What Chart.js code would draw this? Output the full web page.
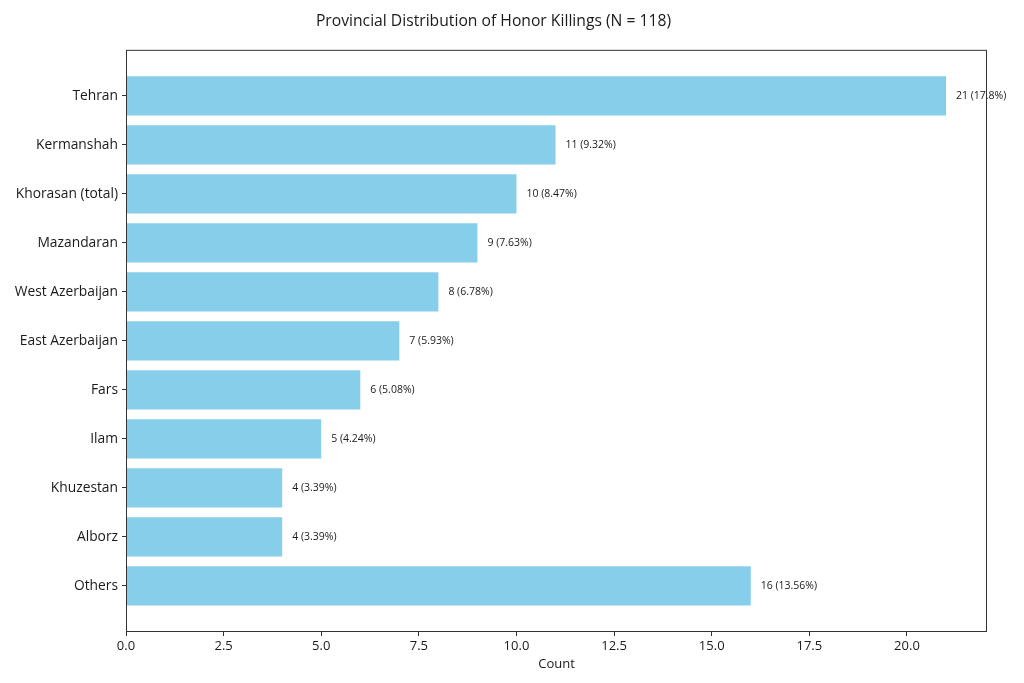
<!DOCTYPE html>
<html>
<head>
<meta charset="utf-8">
<script src="https://cdn.jsdelivr.net/npm/chart.js@4.4.1/dist/chart.umd.min.js"></script>
<style>
    body { margin: 0; background: #fff; }
    #wrap { width: 1024px; height: 683px; }
</style>
</head>
<body>
<div id="wrap"><canvas id="provinces-chart" width="1024" height="683"></canvas></div>
<script>
let provinces = ['Tehran', 'Kermanshah', 'Khorasan (total)', 'Mazandaran', 'West Azerbaijan',
    'East Azerbaijan', 'Fars', 'Ilam', 'Khuzestan', 'Alborz', 'Others'];
let counts = [21, 11, 10, 9, 8, 7, 6, 5, 4, 4, 16];
let barLabels = ['21 (17.8%)', '11 (9.32%)', '10 (8.47%)', '9 (7.63%)', '8 (6.78%)',
    '7 (5.93%)', '6 (5.08%)', '5 (4.24%)', '4 (3.39%)', '4 (3.39%)', '16 (13.56%)'];
let countTicks = [0, 2.5, 5, 7.5, 10, 12.5, 15, 17.5, 20];

const fontFamily = '"Open Sans", "DejaVu Sans", sans-serif';
const textColor = '#1a1a1a';

// frame round the plot area
const framePlugin = {
    id: 'frame',
    afterDraw: function (chart) {
        let ctx = chart.ctx;
        let a = chart.chartArea;
        ctx.save();
        ctx.strokeStyle = '#333';
        ctx.lineWidth = 1;
        ctx.strokeRect(a.left + 0.5, a.top + 0.5, a.right - a.left - 1, a.bottom - a.top - 1);
        ctx.restore();
    }
};

// value labels at the bar ends
const barLabelPlugin = {
    id: 'barLabels',
    afterDatasetsDraw: function (chart) {
        let ctx = chart.ctx;
        let meta = chart.getDatasetMeta(0);
        ctx.save();
        ctx.font = '10.5px ' + fontFamily;
        ctx.fillStyle = textColor;
        ctx.textAlign = 'left';
        ctx.textBaseline = 'middle';
        meta.data.forEach(function (bar, i) {
            ctx.fillText(barLabels[i], bar.x + 10, bar.y);
        });
        ctx.restore();
    }
};

let ctx = document.getElementById('provinces-chart').getContext('2d');
let chart = new Chart(ctx, {
    type: 'bar',
    data: {
        datasets: [{
            data: counts.map(function (c, i) { return { x: c, y: i }; }),
            backgroundColor: '#87CEEB',
            borderWidth: 0,
            barPercentage: 0.8,
            categoryPercentage: 1.0
        }]
    },
    options: {
        indexAxis: 'y',
        responsive: false,
        animation: false,
        layout: { padding: { left: 0, right: 37, top: 0, bottom: 0 } },
        plugins: {
            legend: { display: false },
            tooltip: { enabled: false },
            title: {
                display: true,
                text: 'Provincial Distribution of Honor Killings (N = 118)',
                color: textColor,
                font: { family: fontFamily, size: 15.7, weight: 'normal' },
                padding: { top: 12, bottom: 19 }
            }
        },
        scales: {
            x: {
                type: 'linear',
                min: 0,
                max: 22.05,
                afterBuildTicks: function (axis) {
                    axis.ticks = countTicks.map(function (v) { return { value: v }; });
                },
                afterFit: function (axis) { axis.height = 51; },
                ticks: {
                    color: textColor,
                    font: { family: fontFamily, size: 13 },
                    padding: 2,
                    maxRotation: 0,
                    callback: function (v) { return v.toFixed(1); }
                },
                grid: { drawOnChartArea: false, tickLength: 4, tickColor: '#333' },
                border: { display: false },
                title: {
                    display: true,
                    text: 'Count',
                    color: textColor,
                    font: { family: fontFamily, size: 13 },
                    padding: { top: 4, bottom: 11 }
                }
            },
            y: {
                type: 'linear',
                reverse: true,
                offset: false,
                min: -0.94,
                max: 10.94,
                afterBuildTicks: function (axis) {
                    axis.ticks = provinces.map(function (p, i) { return { value: i }; });
                },
                afterFit: function (axis) { axis.width = 126; },
                ticks: {
                    color: textColor,
                    font: { family: fontFamily, size: 13.8 },
                    padding: 4,
                    callback: function (v) { return provinces[v]; }
                },
                grid: { drawOnChartArea: false, offset: false, tickLength: 4, tickColor: '#333' },
                border: { display: false }
            }
        }
    },
    plugins: [framePlugin, barLabelPlugin]
});
</script>
</body>
</html>
